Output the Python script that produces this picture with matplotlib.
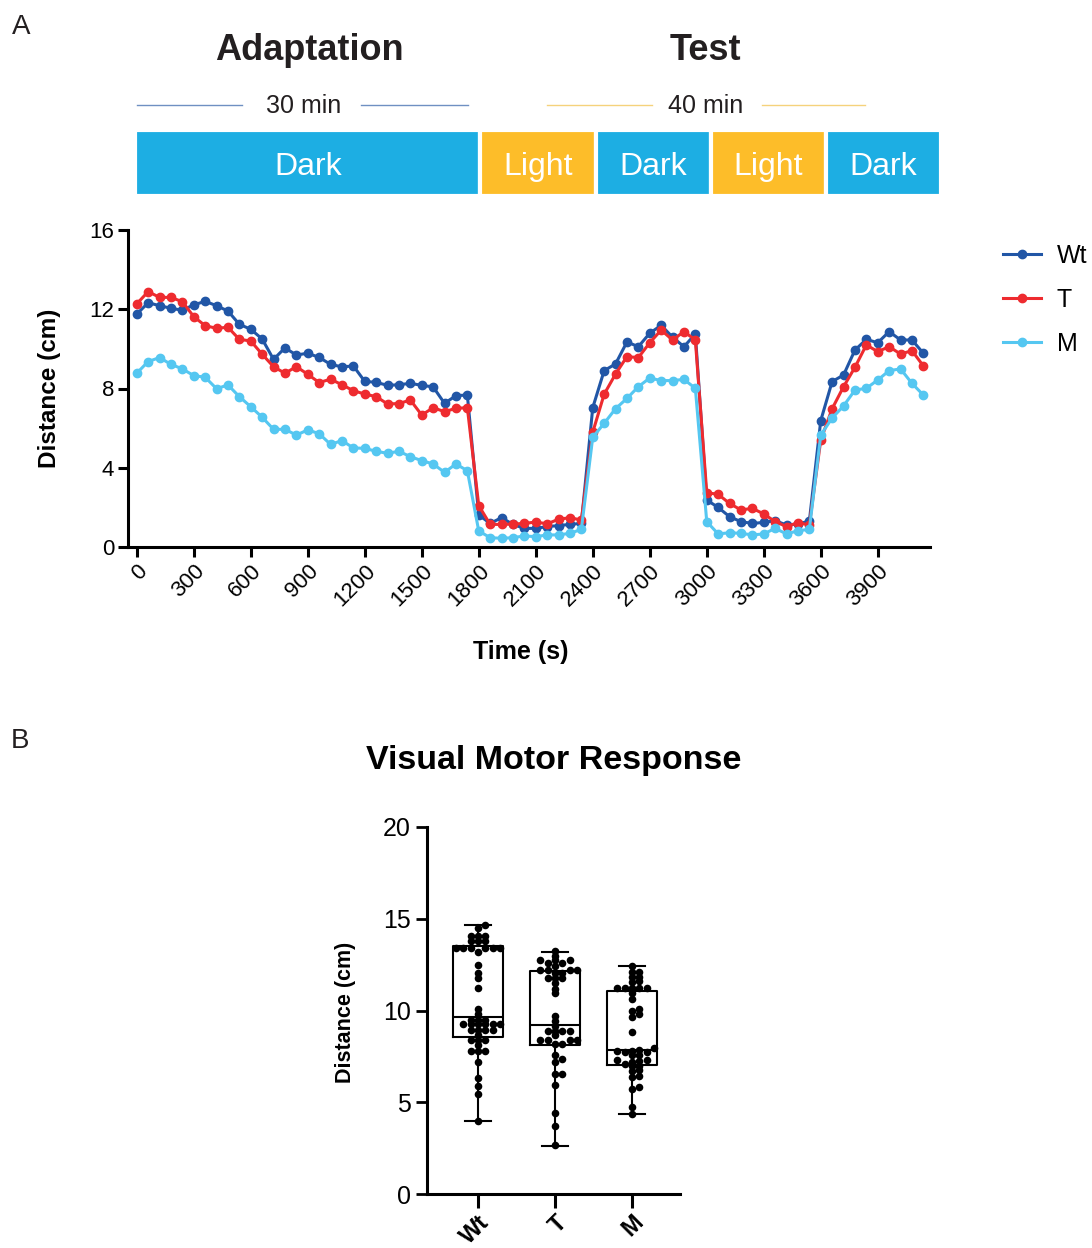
import numpy as np
import matplotlib.pyplot as plt
from matplotlib.lines import Line2D

plt.rcParams['font.family'] = ['Liberation Sans', 'DejaVu Sans']

# mean distance per 60 s bin
time_s = np.arange(0, 4200, 60)
wt = [11.75, 12.33, 12.18, 12.05, 11.95, 12.22, 12.40, 12.18, 11.91, 11.24,
      10.99, 10.50, 9.47, 10.05, 9.69, 9.78, 9.57, 9.22, 9.09, 9.14,
      8.36, 8.31, 8.16, 8.19, 8.26, 8.16, 8.08, 7.25, 7.64, 7.67,
      1.62, 1.19, 1.48, 1.14, 0.94, 0.94, 1.03, 1.08, 1.14, 1.19,
      7.03, 8.90, 9.24, 10.35, 10.11, 10.79, 11.19, 10.59, 10.11, 10.75,
      2.37, 2.00, 1.53, 1.28, 1.19, 1.24, 1.33, 1.11, 1.16, 1.31,
      6.38, 8.35, 8.68, 9.94, 10.48, 10.31, 10.87, 10.45, 10.45, 9.78]
tg = [12.27, 12.89, 12.60, 12.60, 12.38, 11.63, 11.17, 11.04, 11.09, 10.48,
      10.40, 9.73, 9.10, 8.77, 9.10, 8.72, 8.30, 8.47, 8.19, 7.89,
      7.72, 7.59, 7.22, 7.24, 7.42, 6.66, 7.03, 6.83, 7.00, 7.03,
      2.09, 1.14, 1.14, 1.16, 1.19, 1.26, 1.17, 1.40, 1.48, 1.36,
      5.79, 7.71, 8.73, 9.61, 9.56, 10.31, 10.95, 10.45, 10.87, 10.45,
      2.74, 2.66, 2.20, 1.87, 1.95, 1.67, 1.28, 1.03, 1.23, 1.11,
      5.40, 6.98, 8.09, 9.07, 10.20, 9.86, 10.11, 9.74, 9.91, 9.14]
mg = [8.77, 9.36, 9.56, 9.22, 8.99, 8.65, 8.57, 7.99, 8.18, 7.59,
      7.08, 6.55, 5.94, 5.94, 5.65, 5.91, 5.72, 5.18, 5.37, 5.00,
      4.98, 4.83, 4.73, 4.83, 4.56, 4.36, 4.19, 3.77, 4.19, 3.85,
      0.81, 0.47, 0.44, 0.47, 0.56, 0.52, 0.61, 0.61, 0.69, 0.89,
      5.54, 6.24, 6.98, 7.50, 8.09, 8.53, 8.40, 8.40, 8.46, 8.01,
      1.28, 0.66, 0.72, 0.69, 0.61, 0.66, 0.94, 0.66, 0.82, 0.89,
      5.65, 6.51, 7.12, 7.92, 8.01, 8.43, 8.90, 8.99, 8.26, 7.67]

phase_names = ['Dark', 'Light', 'Dark', 'Light', 'Dark']
phase_min = [30, 10, 10, 10, 10]

# per-larva distance, VMR summary
groups = ['Wt', 'T', 'M']
wt_fish = [14.64, 14.49, 14.04, 14.04, 14.04, 13.80, 13.80, 13.80, 13.40, 13.40,
           13.40, 13.40, 13.40, 13.40, 13.19, 12.46, 12.04, 11.77, 11.23, 10.10,
           9.81, 9.50, 9.50, 9.50, 9.26, 9.26, 9.26, 9.26, 9.26, 9.26,
           8.95, 8.95, 8.95, 8.95, 8.68, 8.41, 8.41, 8.41, 8.10, 7.77,
           7.77, 7.77, 7.17, 6.32, 5.87, 5.47, 4.00]
t_fish = [13.22, 12.95, 12.77, 12.73, 12.73, 12.59, 12.59, 12.45, 12.22, 12.22,
          12.22, 12.22, 12.05, 12.05, 11.77, 11.77, 11.77, 11.50, 11.17, 10.95,
          9.72, 9.45, 9.13, 8.90, 8.90, 8.90, 8.90, 8.65, 8.41, 8.41,
          8.41, 8.41, 8.20, 8.20, 7.60, 7.35, 7.20, 6.54, 6.54, 5.92,
          4.41, 3.69, 2.69]
m_fish = [12.41, 12.10, 12.10, 11.85, 11.80, 11.60, 11.55, 11.25, 11.25, 11.20,
          11.20, 11.20, 10.95, 10.60, 10.10, 9.95, 9.80, 9.65, 8.85, 7.95,
          7.85, 7.80, 7.80, 7.75, 7.75, 7.60, 7.55, 7.30, 7.30, 7.25,
          7.20, 7.10, 7.00, 6.95, 6.75, 6.70, 6.45, 6.40, 5.85, 5.70,
          4.75, 4.36]
box_q1 = [8.54, 8.14, 7.05]
box_med = [9.65, 9.23, 7.87]
box_q3 = [13.50, 12.13, 11.08]
box_lo = [4.00, 2.63, 4.36]
box_hi = [14.64, 13.19, 12.41]

c_wt, c_t, c_m = '#2156a6', '#ee2b2f', '#55c7f1'
c_dark, c_light = '#1daee3', '#fdbd29'
ink = '#231f20'

W, H = 1092, 1248
fig = plt.figure(figsize=(W / 100, H / 100), dpi=100)


def rect(x0, y0, x1, y1):
    return [x0 / W, 1 - y1 / H, (x1 - x0) / W, (y1 - y0) / H]


# overlay in pixel units for panel letters, headings and rule lines
ov = fig.add_axes([0, 0, 1, 1])
ov.set_xlim(0, W)
ov.set_ylim(H, 0)
ov.axis('off')
narrow = ['Liberation Sans Narrow', 'Liberation Sans', 'DejaVu Sans']
ov.text(21, 27, 'A', fontsize=20, family=narrow, ha='center', va='center', color=ink)
ov.text(20, 741, 'B', fontsize=20, family=narrow, ha='center', va='center', color=ink)
ov.text(309, 50, 'Adaptation', fontsize=26, fontweight='bold', ha='center', va='center', color=ink)
ov.text(705, 50, 'Test', fontsize=26, fontweight='bold', ha='center', va='center', color=ink)
ov.text(304, 106, '30 min', fontsize=18, ha='center', va='center', color=ink)
ov.text(706, 106, '40 min', fontsize=18, ha='center', va='center', color=ink)
for xa, xb in [(137, 242), (361, 468)]:
    ov.add_line(Line2D([xa, xb], [105, 105], color='#6f90c2', lw=1.0))
for xa, xb in [(547, 652), (762, 865)]:
    ov.add_line(Line2D([xa, xb], [105, 105], color='#f5d27c', lw=1.0))
ov.text(554, 761, 'Visual Motor Response', fontsize=24.5, fontweight='bold', ha='center', va='center')

# light/dark schedule bar
hb = fig.add_axes(rect(135, 130, 941, 196))
starts = np.concatenate([[0], np.cumsum(phase_min)[:-1]])
cols = [c_dark if p == 'Dark' else c_light for p in phase_names]
hb.barh(0.5, phase_min, left=starts, height=1.0, color=cols, edgecolor='white', linewidth=3)
for s, w, name in zip(starts, phase_min, phase_names):
    hb.text(s + w / 2, 0.44, name, color='white', fontsize=23, ha='center', va='center')
hb.set_xlim(0, sum(phase_min))
hb.set_ylim(0, 1)
hb.axis('off')

# time course
ax = fig.add_axes(rect(128, 230, 930, 547))
for y, c, lab in [(wt, c_wt, 'Wt'), (tg, c_t, 'T'), (mg, c_m, 'M')]:
    ax.plot(time_s, y, '-o', color=c, lw=2.2, ms=6.0, label=lab, clip_on=False)
ax.set_xlim(-46, 4175)
ax.set_ylim(0, 16)
ax.set_xticks(np.arange(0, 4000, 300))
ax.set_yticks([0, 4, 8, 12, 16])
ax.set_xticklabels([str(v) for v in np.arange(0, 4000, 300)], rotation=45,
                   ha='right', rotation_mode='anchor')
for s in ['top', 'right']:
    ax.spines[s].set_visible(False)
for s in ['left', 'bottom']:
    ax.spines[s].set_linewidth(2.2)
ax.tick_params(length=7, width=2.2, labelsize=16, pad=3)
ax.set_ylabel('Distance (cm)', fontsize=17.5, fontweight='bold')
ax.yaxis.set_label_coords(-0.083, 0.5)
ax.set_xlabel('Time (s)', fontsize=18, fontweight='bold')
ax.xaxis.set_label_coords(0.49, -0.293)
ax.legend(loc='upper left', bbox_to_anchor=(1003 / W, 1 - 244 / H),
          bbox_transform=fig.transFigure, frameon=False, fontsize=18,
          handlelength=1.5, handletextpad=0.65, labelspacing=0.8,
          borderpad=0, borderaxespad=0)

# box plot with individual larvae
bx = fig.add_axes(rect(427, 827, 680, 1194))
bx.set_xlim(-0.662, 2.623)
bx.set_ylim(0, 20)
stats = [dict(med=md, q1=a, q3=b, whislo=lo, whishi=hi, fliers=[])
         for md, a, b, lo, hi in zip(box_med, box_q1, box_q3, box_lo, box_hi)]
line_kw = dict(color='black', linewidth=1.5)
bx.bxp(stats, positions=[0, 1, 2], widths=0.65, capwidths=0.35, showfliers=False,
       boxprops=line_kw, whiskerprops=line_kw, capprops=line_kw,
       medianprops=line_kw, manage_ticks=False)


def swarm(ax, pos, vals, d=7.3):
    # dots sit on a column grid; rows only collide when they nearly share a level
    vals = np.asarray(vals, float)
    pts = ax.transData.transform(np.column_stack([np.full(len(vals), pos), vals]))
    offs = [0.0]
    for k in range(1, 12):
        offs += [k * d, -k * d]
    placed = []
    out = pts.copy()
    for i in np.argsort(vals):
        px, py = pts[i]
        for o in offs:
            if all(abs(py - qy) >= 0.55 * d or abs(px + o - qx) >= 0.9 * d
                   for qx, qy in placed):
                break
        placed.append((px + o, py))
        out[i, 0] = px + o
    return ax.transData.inverted().transform(out)[:, 0]


for i, vals in enumerate([wt_fish, t_fish, m_fish]):
    xs = swarm(bx, i, vals)
    bx.scatter(xs, vals, s=30, color='black', linewidths=0, zorder=3)

bx.set_xticks([0, 1, 2])
bx.set_xticklabels(groups, rotation=45, ha='right', rotation_mode='anchor',
                   fontsize=17, fontweight='bold')
bx.set_yticks([0, 5, 10, 15, 20])
for s in ['top', 'right']:
    bx.spines[s].set_visible(False)
for s in ['left', 'bottom']:
    bx.spines[s].set_linewidth(2.2)
bx.tick_params(axis='y', length=8, width=2.0, labelsize=18)
bx.tick_params(axis='x', length=10, width=2.2, pad=2)
bx.set_ylabel('Distance (cm)', fontsize=15.5, fontweight='bold')
bx.yaxis.set_label_coords(-0.281, 0.496)

fig.savefig('out.png', dpi=100)
